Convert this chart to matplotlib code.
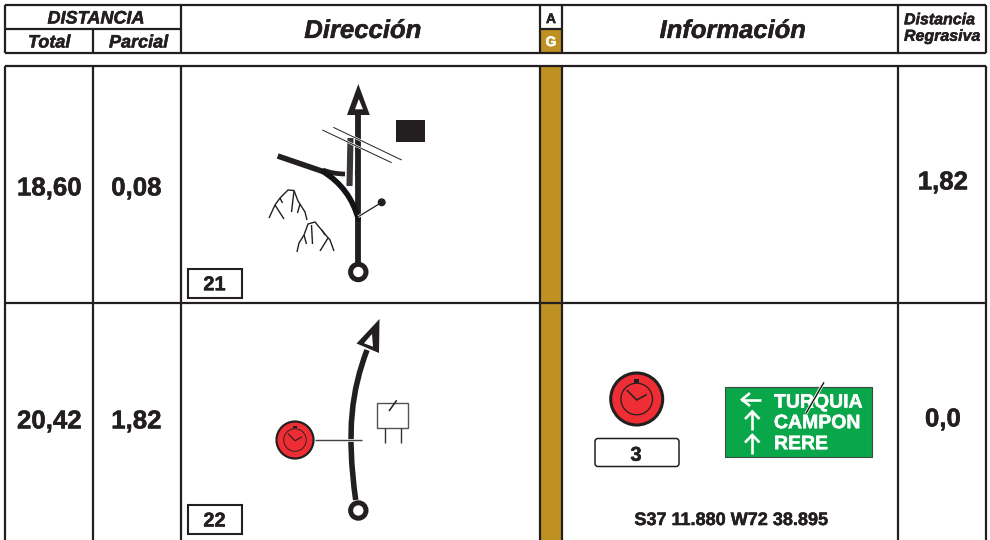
import matplotlib
matplotlib.use("Agg")
import matplotlib.pyplot as plt
from matplotlib.patches import Rectangle, Circle, Polygon, PathPatch, FancyBboxPatch
from matplotlib.path import Path
import matplotlib.patheffects as pe

plt.rcParams['font.family'] = ['Liberation Sans', 'DejaVu Sans']
plt.rcParams['text.hinting'] = 'no_hinting'
plt.rcParams['text.hinting_factor'] = 1

INK = '#231F20'
GOLD = '#BF9022'
GREEN = '#09A64A'
RED = '#EE2D35'

# table text
total_values = ['18,60', '20,42']
partial_values = ['0,08', '1,82']
remaining_values = ['1,82', '0,0']
box_numbers = ['21', '22']
sign_lines = ['TURQUIA', 'CAMPON', 'RERE']
clock_minutes = '3'
coordinates = 'S37 11.880 W72 38.895'

# grid geometry
col_x = [4.5, 92.7, 180.5, 540, 562, 897.7, 986]
head_y = [5, 28.5, 52.5]
body_y = [66, 303, 540]

# row 21 drawing
road1_main = [(358.3, 264), (358.3, 112)]
road1_arrow = [(358.3, 84), (347, 115), (369.8, 115)]
road1_arrow_hole = [(358.8, 99), (355, 109.3), (363, 109.3)]
road1_branch = [(358.3, 219), (350, 188), (323, 171.5)]
road1_branch_out = [(323, 171.5), (277.7, 156)]
road1_side = [(323, 170), (333, 174), (345, 174)]
road1_stub = [(349.5, 186), (350.5, 138)]
road1_tick = [(355.5, 169), (355.5, 175)]
fence_a = [(322.3, 130), (391.7, 162.7)]
fence_b = [(333.3, 127.3), (401.7, 160)]
house1 = (396, 120, 28.5, 21.5)
dot_line = [(358.3, 216.7), (381.7, 202.3)]
dot_xy = (381.7, 202.3)
mountain_strokes = [
    [(269, 218), (275, 205), (280, 198), (288, 190), (294, 190.5), (298, 201), (305, 212), (307, 220)],
    [(275, 205), (284, 219)],
    [(280, 198), (282.5, 203)],
    [(291.5, 212), (294, 191)],
    [(297.5, 213), (300, 204)],
    [(297, 252), (299, 243), (304, 235), (308, 224), (315, 222), (324, 233), (330, 240), (334, 251)],
    [(311.5, 225), (312.5, 244)],
    [(304, 235), (306.5, 244)],
    [(320, 251), (328, 238)],
    [(322, 230), (325, 235)],
]

# row 22 drawing
road2_curve = [(355.7, 500), (346, 430), (352, 390), (367, 350)]
road2_arrow = [(379.5, 319), (356.5, 343.5), (379, 353)]
road2_arrow_hole = [(372, 334), (364, 343.3), (373, 346.7)]
clock_line = [(315, 440), (362, 440)]
house2 = (377.3, 402.7, 31, 25.6)
house2_legs = [[(385, 428.3), (385, 442.5)], [(400.7, 428.3), (400.7, 442.5)]]
house2_slash = [(396.7, 400.3), (389, 411)]

fig = plt.figure(figsize=(9.9, 5.4), dpi=100, facecolor='white')
ax = fig.add_axes([0, 0, 1, 1])
ax.set_xlim(0, 990)
ax.set_ylim(540, 0)
ax.axis('off')


def line(pts, lw=1.5, color=INK, z=3, cap='butt', **kw):
    xs, ys = zip(*pts)
    return ax.plot(xs, ys, color=color, lw=lw, solid_capstyle=cap, zorder=z,
                   solid_joinstyle='miter', **kw)[0]


def text(x, y, s, size, italic=False, color=INK, z=6, **kw):
    t = ax.text(x, y, s, fontsize=size, fontweight='bold',
                fontstyle='italic' if italic else 'normal', color=color,
                ha=kw.pop('ha', 'center'), va='center_baseline', zorder=z, **kw)
    t.set_path_effects([pe.withStroke(linewidth=0.35, foreground=color)])
    return t


def clock(cx, cy, r):
    k = r / 26.0
    ax.add_patch(Circle((cx, cy), r, facecolor=RED, edgecolor=INK, lw=2.2 * k, zorder=5))
    ax.add_patch(Circle((cx, cy), 15.8 * k, facecolor='none', edgecolor=INK, lw=0.9 * k, zorder=6))
    ax.add_patch(Rectangle((cx - 2.5 * k, cy - 20 * k), 5 * k, 3.5 * k, color=INK, lw=0, zorder=6))
    line([(cx - 10 * k, cy - 9 * k), (cx, cy + 1 * k), (cx + 10 * k, cy - 4.5 * k)], lw=1.1 * k, z=6)


# gold column
ax.add_patch(Rectangle((col_x[3], head_y[1]), col_x[4] - col_x[3], head_y[2] - head_y[1], color=GOLD, lw=0, zorder=1))
ax.add_patch(Rectangle((col_x[3], body_y[0]), col_x[4] - col_x[3], body_y[2] - body_y[0], color=GOLD, lw=0, zorder=1))

# header frame
GRID = 1.6
line([(col_x[0], head_y[0]), (col_x[6], head_y[0])], GRID)
line([(col_x[0], head_y[2]), (col_x[6], head_y[2])], GRID)
line([(col_x[0], head_y[1]), (col_x[2], head_y[1])], GRID)
line([(col_x[3], head_y[1]), (col_x[4], head_y[1])], GRID)
for x in [col_x[0], col_x[2], col_x[3], col_x[4], col_x[5], col_x[6]]:
    line([(x, head_y[0]), (x, head_y[2])], GRID)
line([(col_x[1], head_y[1]), (col_x[1], head_y[2])], GRID)

# body frame
line([(col_x[0], body_y[0]), (col_x[6], body_y[0])], GRID)
line([(col_x[0], body_y[1]), (col_x[6], body_y[1])], GRID)
for x in col_x:
    line([(x, body_y[0]), (x, body_y[2])], GRID)

# header text
text(96, 17, 'DISTANCIA', 13, italic=True)
text(49.5, 41, 'Total', 13, italic=True)
text(138.5, 41, 'Parcial', 13, italic=True)
text(363.5, 28.5, 'Dirección', 18.5, italic=True)
text(734, 28.5, 'Información', 18.4, italic=True)
text(904, 18.5, 'Distancia', 11.5, italic=True, ha='left')
text(904, 35, 'Regrasiva', 11.5, italic=True, ha='left')
text(551, 18, 'A', 10)
text(551, 41, 'G', 10, color='white')

# row values
row_y = [186, 419]
right_y = [180, 417]
for i in range(2):
    text(49.5, row_y[i], total_values[i], 18.6)
    text(136.5, row_y[i], partial_values[i], 18.6)
    text(943, right_y[i], remaining_values[i], 18.6)

# number boxes
for (y0, y1), label in zip([(268.5, 297.5), (504.5, 534)], box_numbers):
    ax.add_patch(Rectangle((187.5, y0), 54.5, y1 - y0, fc='white', ec=INK, lw=1.5, zorder=4))
    text(214.5, (y0 + y1) / 2, label, 14.4)

# --- row 21 diagram ---
line(road1_main, 4.2, z=3)
ax.add_patch(PathPatch(Path(road1_branch, [Path.MOVETO, Path.CURVE3, Path.CURVE3]),
                       fc='none', ec='#111416', lw=4, zorder=4, capstyle='round'))
line(road1_branch_out, 4, cap='butt')
ax.add_patch(PathPatch(Path(road1_side, [Path.MOVETO, Path.CURVE3, Path.CURVE3]),
                       fc='none', ec=INK, lw=3.4, zorder=3))
line(road1_stub, 4.4, color='#3A3637', z=3)
line(road1_tick, 2.2, z=3)
for f in (fence_a, fence_b):
    line(f, 1.6, color='white', z=4)
    line(f, 0.7, z=5)
ax.add_patch(Polygon(road1_arrow, closed=True, fc=INK, ec='none', zorder=5))
ax.add_patch(Polygon(road1_arrow_hole, closed=True, fc='white', ec='none', zorder=6))
ax.add_patch(Circle((358.3, 272), 7.7, fc='white', ec=INK, lw=3.6, zorder=5))
ax.add_patch(Rectangle(house1[:2], house1[2], house1[3], fc=INK, ec='none', zorder=5))
line(dot_line, 2.0, color='white', z=5)
line(dot_line, 0.9, z=6)
ax.add_patch(Circle(dot_xy, 4, fc=INK, ec='none', zorder=6))
for s in mountain_strokes:
    line(s, 1.0, z=3)

# --- row 22 diagram ---
ax.add_patch(PathPatch(Path(road2_curve, [Path.MOVETO, Path.CURVE4, Path.CURVE4, Path.CURVE4]),
                       fc='none', ec=INK, lw=4, zorder=3))
ax.add_patch(Polygon(road2_arrow, closed=True, fc=INK, ec='none', zorder=5))
ax.add_patch(Polygon(road2_arrow_hole, closed=True, fc='white', ec='none', zorder=6))
ax.add_patch(Circle((358.3, 510.5), 7.7, fc='white', ec=INK, lw=3.6, zorder=5))
line(clock_line, 2, color='white', z=4)
line(clock_line, 1.0, color='#444142', z=5)
clock(295, 440, 18.5)
ax.add_patch(Rectangle(house2[:2], house2[2], house2[3], fc='white', ec='#555253', lw=1.0, zorder=3))
for leg in house2_legs:
    line(leg, 1.0, z=3, color='#333031')
line(house2_slash, 1.1, z=4)

# --- row 22 information ---
clock(636.7, 399, 26)
ax.add_patch(FancyBboxPatch((595, 438.5), 84, 28, boxstyle='round,pad=0,rounding_size=3',
                            fc='white', ec=INK, lw=1.1, zorder=4))
text(636, 453.5, clock_minutes, 14.4)
ax.add_patch(Rectangle((725.3, 386.7), 146.7, 70.3, fc=GREEN, ec='#3a4a40', lw=0.8, zorder=3))
sign_y = [400.7, 421.3, 442.3]
for y, s in zip(sign_y, sign_lines):
    text(774, y, s, 14, color='white', ha='left')


def arrow(tip, tail, barb):
    line([tail, tip], 1.9, color='white', z=6)
    line(barb, 1.9, color='white', z=6)


arrow((741, 399.5), (761, 399.5), [(750, 393), (742, 399.5), (750, 406)])
arrow((752.3, 411), (752.3, 429.5), [(745, 419), (752.3, 411.5), (759.5, 419)])
arrow((752.3, 434.5), (752.3, 453.5), [(745, 442.5), (752.3, 435), (759.5, 442.5)])
slash = [(824, 382.3), (806, 413.3)]
line(slash, 2.2, color='white', z=7)
line(slash, 1.0, color='#111111', z=8)
text(731, 518.5, coordinates, 13)

fig.savefig('out.png', dpi=100, facecolor='white')
